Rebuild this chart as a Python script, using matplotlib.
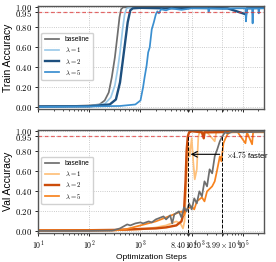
import matplotlib
matplotlib.use('Agg')
import matplotlib.pyplot as plt
from matplotlib.ticker import FixedLocator, FixedFormatter

plt.rcParams['mathtext.fontset'] = 'cm'
plt.rcParams['font.family'] = ['Liberation Sans', 'DejaVu Sans']

# ---- train accuracy (top) ----
tr_base_steps = [10, 32, 100, 158, 200, 240, 275, 316, 355, 389, 417, 457, 1000, 260000]
tr_base = [0.01, 0.012, 0.02, 0.03, 0.07, 0.15, 0.3, 0.5, 0.72, 0.9, 0.98, 1.0, 1.0, 1.0]

tr_l1_steps = [10, 100, 200, 263, 316, 363, 398, 447, 490, 537, 631, 260000]
tr_l1 = [0.01, 0.015, 0.035, 0.1, 0.22, 0.4, 0.55, 0.78, 0.93, 0.99, 1.0, 1.0]

tr_l2_steps = [10, 100, 251, 331, 398, 447, 501, 562, 631, 708, 1000, 3000, 10000,
               50000, 114815, 120226, 260000]
tr_l2 = [0.01, 0.012, 0.03, 0.08, 0.25, 0.45, 0.65, 0.85, 0.97, 0.99, 0.995, 0.99, 0.995,
         0.99, 0.93, 0.99, 0.995]

tr_l5_steps = [10, 100, 398, 794, 1000, 1122, 1202, 1318, 1413, 1514, 1660, 1820, 1995,
               2138, 2291, 2512, 3162, 3981, 6310, 10000, 20893, 21380, 22387, 40000,
               79433, 112202, 114815, 120226, 151356, 154882, 158489, 199526, 204174,
               210000, 260000]
tr_l5 = [0.005, 0.01, 0.015, 0.03, 0.07, 0.2, 0.3, 0.42, 0.55, 0.6, 0.78, 0.85, 0.93,
         0.96, 0.94, 0.98, 0.97, 0.99, 0.975, 0.99, 0.99, 0.955, 0.99, 0.985,
         0.99, 0.99, 0.86, 0.99, 0.99, 0.84, 0.99, 0.99, 0.94, 0.99, 0.99]

# ---- val accuracy (bottom) ----
va_base_steps = [10, 100, 282, 398, 550, 631, 794, 1000, 1122, 1445, 1660, 1995, 2818,
                 3162, 3802, 4169, 4571, 5623, 6310, 7079, 7943, 8913, 10000, 11220,
                 12589, 14125, 15849, 17783, 19953, 22387, 25119, 28184, 31623, 35481,
                 39811, 44668, 50119, 63096, 100000, 260000]
va_base = [0.005, 0.005, 0.008, 0.03, 0.07, 0.06, 0.08, 0.09, 0.08, 0.1, 0.09, 0.12, 0.15,
           0.12, 0.16, 0.08, 0.17, 0.2, 0.14, 0.24, 0.2, 0.28, 0.22, 0.33,
           0.28, 0.4, 0.35, 0.5, 0.45, 0.62, 0.58, 0.75, 0.82, 0.9,
           0.95, 0.99, 0.98, 0.995, 0.99, 0.995]

va_l1_steps = [10, 316, 1000, 1995, 3162, 5012, 6026, 6761, 7244, 7943, 8511, 9120, 10000,
               10715, 11482, 12589, 13490, 14454, 19953, 28184, 30200, 260000]
va_l1 = [0.01, 0.012, 0.02, 0.04, 0.06, 0.1, 0.08, 0.03, 0.1, 0.5, 0.88, 0.75, 0.93,
         0.7, 0.52, 0.62, 0.95, 1.0, 0.99, 0.9, 0.99, 1.0]

va_l2_steps = [10, 100, 316, 631, 1000, 1995, 3162, 5012, 6310, 7079, 7586, 7943, 8400,
               8913, 10000, 15849, 17200, 17783, 25119, 260000]
va_l2 = [0.01, 0.012, 0.015, 0.02, 0.025, 0.03, 0.04, 0.06, 0.1, 0.2, 0.5, 0.8, 0.95,
         0.99, 1.0, 0.99, 0.93, 0.99, 0.99, 1.0]

va_l5_steps = [10, 316, 501, 708, 1000, 1413, 1995, 2818, 3981, 5012, 6310, 7079, 7943,
               10000, 11220, 12589, 15849, 17783, 19953, 25119, 28184, 31623, 35481,
               38019, 41687, 45709, 50119, 56234, 79433, 112202, 120226, 151356,
               158489, 260000]
va_l5 = [0.01, 0.01, 0.02, 0.04, 0.06, 0.08, 0.1, 0.13, 0.16, 0.18, 0.2, 0.16, 0.22,
         0.25, 0.22, 0.3, 0.34, 0.3, 0.4, 0.45, 0.5, 0.62, 0.75,
         0.7, 0.88, 0.93, 0.97, 0.99, 0.99, 0.88, 0.99, 0.87,
         0.99, 0.99]

labels = ['baseline', r'$\lambda = 1$', r'$\boldsymbol{\lambda = 2}$', r'$\lambda = 5$']
blues = ['#6e6e6e', '#9ccbea', '#1d4f7e', '#3a8fd0']
oranges = ['#6e6e6e', '#fec07a', '#cc4c0a', '#f7831f']
widths = [1.25, 1.25, 1.7, 1.25]

fast_step, slow_step = 8400, 39900
yticks = [0.0, 0.2, 0.4, 0.6, 0.8, 0.95, 1.0]
xticks = [10, 100, 1000, fast_step, 10000, slow_step, 100000]
xticklabels = [r'$10^{1}$', r'$10^{2}$', r'$10^{3}$', r'$8.40\times10^{3}$',
               r'$10^{4}$', r'$3.99\times10^{4}$', r'$10^{5}$']

fig, (ax1, ax2) = plt.subplots(2, 1, figsize=(2.76, 2.62), dpi=100, sharex=True)
fig.subplots_adjust(left=0.138, right=0.957, top=0.977, bottom=0.111, hspace=0.204)

top_data = [(tr_base_steps, tr_base), (tr_l1_steps, tr_l1), (tr_l2_steps, tr_l2), (tr_l5_steps, tr_l5)]
bot_data = [(va_base_steps, va_base), (va_l1_steps, va_l1), (va_l2_steps, va_l2), (va_l5_steps, va_l5)]

for (s, v), c, w, lab in zip(top_data, blues, widths, labels):
    ax1.plot(s, v, color=c, lw=w, label=lab)

# baseline drawn last in the val panel so it sits over the orange curves
for i in [1, 2, 3, 0]:
    s, v = bot_data[i]
    ax2.plot(s, v, color=oranges[i], lw=widths[i], label=labels[i], zorder=2.5 if i == 0 else 2)

ax2.vlines([fast_step, slow_step], -0.015, 0.95, colors='black', linestyles='--', lw=0.7, zorder=3)
ax2.annotate('', xy=(fast_step, 0.77), xytext=(slow_step, 0.77),
             arrowprops=dict(arrowstyle='->', color='black', lw=0.8), zorder=4)
ax2.text(46000, 0.77, r'$\times 4.75$ faster', fontsize=5.5, va='center', ha='left', clip_on=False)

for ax, ylab in [(ax1, 'Train Accuracy'), (ax2, 'Val Accuracy')]:
    ax.axhline(0.95, color='#e03030', ls='--', lw=0.9, alpha=0.7, dashes=(3, 2))
    ax.set_xscale('log')
    ax.set_xlim(10, 260000)
    ax.set_ylim(-0.015, 1.013)
    ax.yaxis.set_major_locator(FixedLocator(yticks))
    ax.yaxis.set_major_formatter(FixedFormatter(['$%.2f$' % t for t in yticks]))
    ax.set_ylabel(ylab, fontsize=7.5, labelpad=2)
    ax.grid(True, which='major', ls=':', color='#bbbbbb', lw=0.6)
    ax.tick_params(axis='both', which='major', labelsize=6.3, length=2.5, width=0.6, pad=1.5)
    ax.tick_params(axis='x', which='minor', length=1.5, width=0.5)
    for sp in ax.spines.values():
        sp.set_color('#555555')
        sp.set_linewidth(1.0)
    handles, labs = ax.get_legend_handles_labels()
    order = [labs.index(l) for l in labels]
    ax.legend([handles[k] for k in order], [labs[k] for k in order],
              loc='center left', bbox_to_anchor=(0.0, 0.51), fontsize=4.8,
              handlelength=2.2, labelspacing=0.45, borderpad=0.5, framealpha=0.9,
              edgecolor='#cccccc')

ax2.xaxis.set_major_locator(FixedLocator(xticks))
ax2.xaxis.set_major_formatter(FixedFormatter(xticklabels))
ax2.tick_params(axis='x', which='major', labelsize=5.7)
ax2.set_xlabel('Optimization Steps', fontsize=6, labelpad=2)

fig.savefig('out.png', dpi=100)
